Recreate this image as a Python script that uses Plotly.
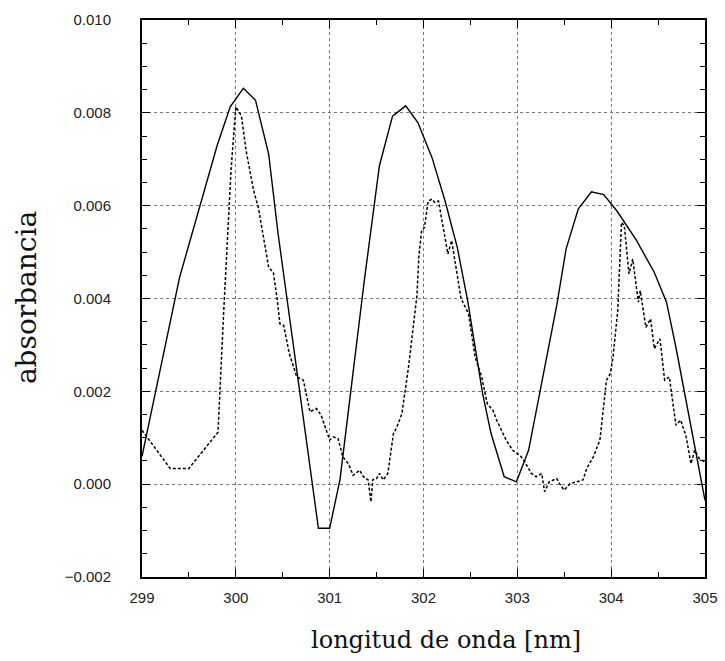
import plotly.graph_objects as go

# Solid curve (vertices)
solid_x = [299.00, 299.40, 299.80, 299.94, 300.08, 300.21, 300.35, 300.45, 300.88, 301.00,
           301.11, 301.37, 301.53, 301.67, 301.81, 301.94, 302.09, 302.23, 302.36, 302.47,
           302.63, 302.72, 302.86, 302.99, 303.12, 303.24, 303.42, 303.52, 303.65, 303.79,
           303.92, 304.06, 304.27, 304.46, 304.59, 304.69, 304.79, 304.89, 305.00]
solid_y = [0.00060, 0.00445, 0.00729, 0.00813, 0.00853, 0.00827, 0.00711, 0.00540, -0.00095, -0.00095,
           0.00010, 0.00440, 0.00686, 0.00793, 0.00815, 0.00779, 0.00704, 0.00610, 0.00510, 0.00396,
           0.00195, 0.00109, 0.00016, 0.00005, 0.00073, 0.00195, 0.00385, 0.00507, 0.00593, 0.00630,
           0.00624, 0.00589, 0.00525, 0.00456, 0.00392, 0.00295, 0.00191, 0.00080, -0.00035]

# Dashed curve
dash_x = [299.00, 299.30, 299.50, 299.81, 299.87, 299.95, 300.00, 300.06, 300.11, 300.19,
          300.24, 300.29, 300.35, 300.40, 300.44, 300.47, 300.51, 300.57, 300.65, 300.72,
          300.79, 300.86, 300.91, 301.00, 301.04, 301.09, 301.14, 301.20, 301.25, 301.32,
          301.36, 301.41, 301.44, 301.46, 301.50, 301.53, 301.57, 301.62, 301.68, 301.71,
          301.77, 301.84, 301.89, 301.93, 301.95, 301.98, 302.01, 302.05, 302.09, 302.12,
          302.16, 302.21, 302.26, 302.30, 302.35, 302.40, 302.48, 302.55, 302.62, 302.68,
          302.74, 302.78, 302.88, 302.95, 303.03, 303.08, 303.15, 303.20, 303.26, 303.29,
          303.34, 303.42, 303.45, 303.50, 303.56, 303.63, 303.70, 303.74, 303.81, 303.88,
          303.92, 303.95, 303.99, 304.02, 304.07, 304.11, 304.14, 304.19, 304.23, 304.29,
          304.31, 304.37, 304.42, 304.46, 304.52, 304.57, 304.62, 304.69, 304.74, 304.80,
          304.85, 304.89, 304.94, 305.00]
dash_y = [0.00116, 0.00034, 0.00034, 0.00112, 0.00370, 0.00680, 0.00813, 0.00793, 0.00718, 0.00632,
          0.00596, 0.00539, 0.00467, 0.00456, 0.00400, 0.00345, 0.00342, 0.00281, 0.00231, 0.00224,
          0.00156, 0.00163, 0.00148, 0.00095, 0.00102, 0.00098, 0.00059, 0.00044, 0.00019, 0.00030,
          0.00016, 0.00009, -0.00038, 0.00010, 0.00012, 0.00023, 0.00009, 0.00023, 0.00109, 0.00120,
          0.00152, 0.00252, 0.00331, 0.00406, 0.00489, 0.00546, 0.00553, 0.00610, 0.00614, 0.00607,
          0.00610, 0.00553, 0.00496, 0.00525, 0.00467, 0.00400, 0.00367, 0.00274, 0.00231, 0.00173,
          0.00159, 0.00138, 0.00095, 0.00073, 0.00062, 0.00048, 0.00023, 0.00016, 0.00023, -0.00016,
          0.00005, 0.00012, 0.00001, -0.00013, 0.00001, 0.00005, 0.00009, 0.00034, 0.00059, 0.00095,
          0.00166, 0.00224, 0.00238, 0.00274, 0.00374, 0.00564, 0.00557, 0.00453, 0.00485, 0.00392,
          0.00417, 0.00338, 0.00356, 0.00292, 0.00313, 0.00224, 0.00231, 0.00127, 0.00138, 0.00102,
          0.00044, 0.00073, 0.00055, 0.00048]

x_ticks = [299, 300, 301, 302, 303, 304, 305]
y_ticks = [-0.002, 0.000, 0.002, 0.004, 0.006, 0.008, 0.010]
x_title = "longitud de onda [nm]"
y_title = "absorbancia"

fig = go.Figure()
fig.add_trace(go.Scatter(x=solid_x, y=solid_y, mode="lines",
                         line=dict(color="black", width=1.4), showlegend=False))
fig.add_trace(go.Scatter(x=dash_x, y=dash_y, mode="lines",
                         line=dict(color="black", width=1.5, dash="3px,2px"), showlegend=False))

tick_font = dict(family="Liberation Sans, Arial, sans-serif", size=15, color="#222")
xtitle_font = dict(family="DejaVu Serif, serif", size=24, color="#111")
ytitle_font = dict(family="DejaVu Serif, serif", size=28, color="#111")

fig.update_layout(
    width=725, height=661,
    margin=dict(l=142, r=20, t=20, b=84),
    paper_bgcolor="white", plot_bgcolor="white",
    xaxis=dict(
        range=[299, 305], tickvals=x_ticks, ticktext=[str(v) for v in x_ticks],
        showgrid=True, gridcolor="#777", griddash="dot", gridwidth=1,
        showline=True, linecolor="black", linewidth=2, mirror="ticks",
        ticks="inside", ticklen=8, tickcolor="black", tickwidth=1,
        minor=dict(dtick=0.5, ticks="inside", ticklen=5, tickcolor="black", showgrid=False),
        tickfont=tick_font, zeroline=False, automargin=False, ticklabelstandoff=6,
    ),
    yaxis=dict(
        range=[-0.002, 0.010], tickvals=y_ticks, tickformat=".3f",
        showgrid=True, gridcolor="#777", griddash="dot", gridwidth=1,
        showline=True, linecolor="black", linewidth=2, mirror="ticks",
        ticks="inside", ticklen=8, tickcolor="black", tickwidth=1,
        minor=dict(dtick=0.0005, ticks="inside", ticklen=5, tickcolor="black", showgrid=False),
        tickfont=tick_font, zeroline=False, automargin=False, ticklabelstandoff=26,
    ),
    annotations=[
        dict(text=x_title, xref="paper", yref="paper", x=0.54, y=-0.113,
             xanchor="center", yanchor="middle", showarrow=False, font=xtitle_font),
        dict(text=y_title, xref="paper", yref="paper", x=-0.204, y=0.501,
             xanchor="center", yanchor="middle", showarrow=False, textangle=-90,
             font=ytitle_font),
    ],
)

fig.write_html("out.html", config={"displayModeBar": False},
               post_script="document.body.style.margin='0';")
